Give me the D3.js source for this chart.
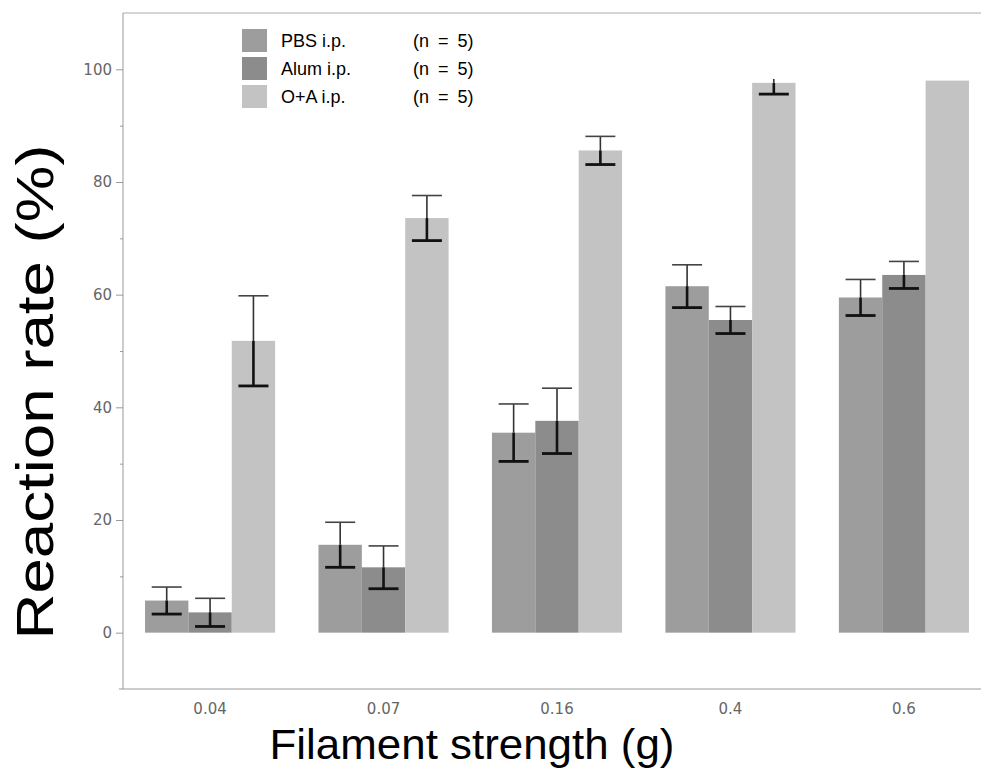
<html>
<head>
<meta charset="utf-8">
<title>Reaction rate</title>
<script src="https://d3js.org/d3.v7.min.js"></script>
<style>
    body{ margin:0; background:#fff; }
    .tick text{ font-family:"DejaVu Sans", sans-serif; font-size:15px; fill:#666; }
</style>
</head>
<body>
<script>
// data
var strengths = ["0.04", "0.07", "0.16", "0.4", "0.6"];
var groups = ["PBS i.p.", "Alum i.p.", "O+A i.p."];
var nLabels = ["(n = 5)", "(n = 5)", "(n = 5)"];
var pbsMean  = [5.7, 15.6, 35.5, 61.5, 59.5];
var pbsErr   = [2.4, 4.0, 5.1, 3.8, 3.2];
var alumMean = [3.6, 11.6, 37.6, 55.5, 63.5];
var alumErr  = [2.5, 3.8, 5.8, 2.4, 2.4];
var oaMean   = [51.8, 73.6, 85.6, 97.6, 98.0];
var oaErr    = [8.0, 4.0, 2.5, 2.0, 0];
var yTicks = [0, 20, 40, 60, 80, 100];
var yMinor = [10, 30, 50, 70, 90];

var width = 981, height = 774;
var mLeft = 123, mRight = 991, mTop = 13, mBottom = 689;
var colors = ["#9d9d9d", "#8c8c8c", "#c3c3c3"];

var svg = d3.select("body").append("svg")
            .attr("width", width)
            .attr("height", height);

var y = d3.scaleLinear().domain([-10, 110]).range([mBottom, mTop]);
var x0 = d3.scaleBand().domain(strengths).range([mLeft, mRight])
           .paddingInner(0.25).paddingOuter(0.127);
var x1 = d3.scaleBand().domain(groups).range([0, x0.bandwidth()]);

var rows = [];
strengths.forEach(function(s, i){
    rows.push({s: s, g: groups[0], v: pbsMean[i], e: pbsErr[i]});
    rows.push({s: s, g: groups[1], v: alumMean[i], e: alumErr[i]});
    rows.push({s: s, g: groups[2], v: oaMean[i], e: oaErr[i]});
});

// frame top
svg.append("line").attr("x1", mLeft).attr("x2", width).attr("y1", mTop).attr("y2", mTop)
   .attr("stroke", "#aaa").attr("stroke-width", 1);

// bars
svg.selectAll("rect.bar").data(rows).enter().append("rect")
   .attr("class", "bar")
   .attr("x", function(d){ return x0(d.s) + x1(d.g); })
   .attr("y", function(d){ return y(d.v); })
   .attr("width", x1.bandwidth())
   .attr("height", function(d){ return y(0) - y(d.v); })
   .attr("fill", function(d){ return colors[groups.indexOf(d.g)]; });

// error bars: upper half thin, lower half heavy
var cap = 15, clipTop = 98.3;
var eb = svg.selectAll("g.err").data(rows.filter(function(d){ return d.e > 0; }))
            .enter().append("g").attr("class", "err")
            .attr("transform", function(d){ return "translate(" + (x0(d.s) + x1(d.g) + x1.bandwidth()/2) + ",0)"; });
eb.append("line").attr("x1", 0).attr("x2", 0)
  .attr("y1", function(d){ return y(d.v); })
  .attr("y2", function(d){ return y(Math.min(d.v + d.e, clipTop)); })
  .attr("stroke", "#333").attr("stroke-width", 1.6);
eb.filter(function(d){ return d.v + d.e <= clipTop; }).append("line")
  .attr("x1", -cap).attr("x2", cap)
  .attr("y1", function(d){ return y(d.v + d.e); })
  .attr("y2", function(d){ return y(d.v + d.e); })
  .attr("stroke", "#444").attr("stroke-width", 1.6);
eb.append("line").attr("x1", 0).attr("x2", 0)
  .attr("y1", function(d){ return y(d.v); })
  .attr("y2", function(d){ return y(d.v - d.e); })
  .attr("stroke", "#111").attr("stroke-width", 2.6);
eb.append("line")
  .attr("x1", -cap).attr("x2", cap)
  .attr("y1", function(d){ return y(d.v - d.e); })
  .attr("y2", function(d){ return y(d.v - d.e); })
  .attr("stroke", "#111").attr("stroke-width", 2.8);

// axes
var yAxis = svg.append("g").attr("transform", "translate(" + mLeft + ",0)")
   .call(d3.axisLeft(y).tickValues(yTicks).tickSize(7).tickPadding(4));
yAxis.select(".domain").remove();
var yMin = svg.append("g").attr("transform", "translate(" + mLeft + ",0)")
   .call(d3.axisLeft(y).tickValues(yMinor).tickSize(3).tickFormat(""));
yMin.select(".domain").remove();
svg.append("line").attr("x1", mLeft).attr("x2", mLeft).attr("y1", mTop).attr("y2", mBottom)
   .attr("stroke", "#999");
svg.selectAll(".tick line").attr("stroke", "#999");

var xAxis = svg.append("g").attr("transform", "translate(0," + mBottom + ")")
   .call(d3.axisBottom(x0).tickSize(0).tickPadding(14));
xAxis.select(".domain").remove();
svg.append("line").attr("x1", 119).attr("x2", width).attr("y1", mBottom).attr("y2", mBottom)
   .attr("stroke", "#999");

// titles
svg.append("text").attr("x", 472).attr("y", 759).attr("text-anchor", "middle")
   .style("font-family", "Liberation Sans, Arial, sans-serif").style("font-size", "42px")
   .attr("textLength", 405).attr("lengthAdjust", "spacingAndGlyphs")
   .text("Filament strength (g)");
svg.append("text").attr("transform", "translate(53,392) rotate(-90)").attr("text-anchor", "middle")
   .style("font-family", "Liberation Sans, Arial, sans-serif").style("font-size", "52px")
   .attr("textLength", 495).attr("lengthAdjust", "spacingAndGlyphs")
   .text("Reaction rate (%)");

// legend
var lg = svg.selectAll("g.leg").data(groups).enter().append("g").attr("class", "leg")
   .attr("transform", function(d, i){ return "translate(242," + (29 + i*28) + ")"; });
lg.append("rect").attr("width", 25).attr("height", 23).attr("fill", function(d, i){ return colors[i]; });
lg.append("text").attr("x", 39).attr("y", 18).text(function(d){ return d; })
  .style("font-family", "Liberation Sans, Arial, sans-serif").style("font-size", "18px");
lg.append("text").attr("x", 171).attr("y", 18).text(function(d, i){ return nLabels[i]; })
  .style("font-family", "Liberation Sans, Arial, sans-serif").style("font-size", "18px")
  .style("word-spacing", "4px");
</script>
</body>
</html>
